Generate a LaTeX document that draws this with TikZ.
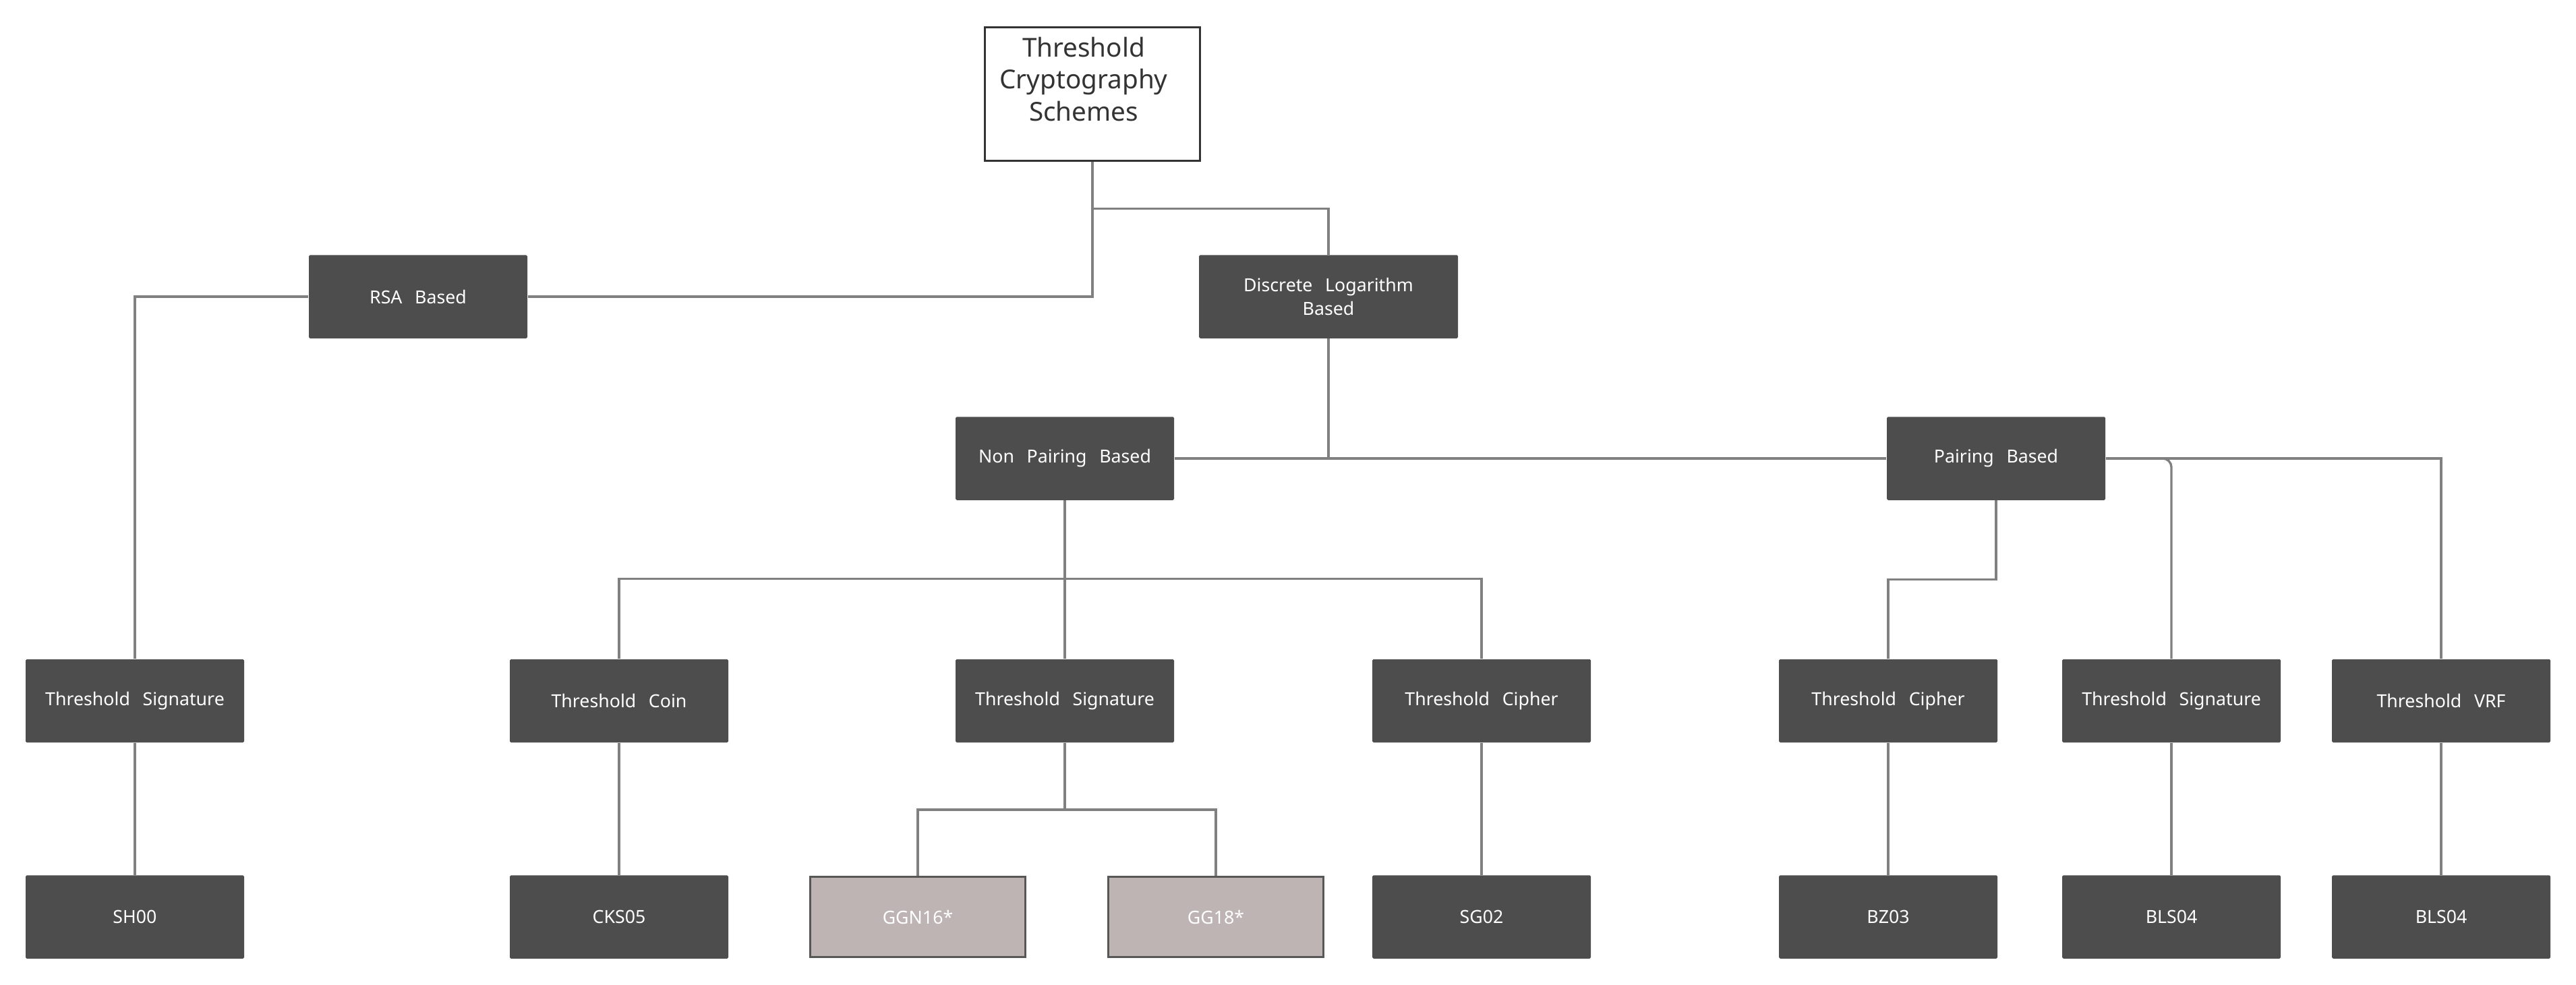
\documentclass[tikz,border=0pt]{standalone}
\usepackage{fontspec}
\setmainfont{Noto Sans}
\definecolor{boxgray}{HTML}{4D4D4D}
\definecolor{linegray}{HTML}{808080}
\definecolor{paperfill}{HTML}{BDB4B3}
\definecolor{paperline}{HTML}{575757}
\definecolor{inkgray}{HTML}{333333}
\newcommand{\wordgap}{\hspace{0.7em}}

\begin{document}
\begin{tikzpicture}
\tikzstyle{block}=[fill=boxgray,text=white,rounded corners=0.5pt,minimum width=3.24cm,minimum height=1.235cm,inner sep=0pt,align=center,font=\fontsize{7.6}{9.7}\selectfont]
\tikzstyle{paper}=[block,fill=paperfill,draw=paperline,line width=1pt,rounded corners=0pt,minimum width=3.19cm,minimum height=1.19cm]
\tikzstyle{rootbox}=[draw=inkgray,fill=white,line width=1pt,minimum width=3.19cm,minimum height=1.98cm,inner sep=0pt]
\tikzstyle{link}=[draw=linegray,line width=0.95pt]
\useasboundingbox (0,0) rectangle (38.2,-14.6);

% top levels
\node[rootbox] (root) at (16.20,-1.395) {};
\node[anchor=north,align=center,inner sep=0pt,text=inkgray,font=\fontsize{11}{13.4}\selectfont] (title) at ([xshift=-0.13cm,yshift=-0.16cm]root.north) {Threshold\\Cryptography\\Schemes};
\node[block] (rsa) at (6.20,-4.40) {RSA\wordgap Based};
\node[block,minimum width=3.84cm] (dl) at (19.70,-4.40) {Discrete\wordgap Logarithm\\Based};
\node[block] (np) at (15.79,-6.80) {Non\wordgap Pairing\wordgap Based};
\node[block] (pb) at (29.60,-6.80) {Pairing\wordgap Based};

% scheme types
\node[block] (rsasig) at (2.00,-10.395) {Threshold\wordgap Signature};
\node[block] (coin) at (9.18,-10.395) {Threshold\wordgap Coin};
\node[block] (npsig) at (15.79,-10.395) {Threshold\wordgap Signature};
\node[block] (npciph) at (21.97,-10.395) {Threshold\wordgap Cipher};
\node[block] (pbciph) at (28.00,-10.395) {Threshold\wordgap Cipher};
\node[block] (pbsig) at (32.20,-10.395) {Threshold\wordgap Signature};
\node[block] (vrf) at (36.20,-10.395) {Threshold\wordgap VRF};

% schemes
\node[block] (sh) at (2.00,-13.60) {SH00};
\node[block] (cks) at (9.18,-13.60) {CKS05};
\node[paper] (ggn) at (13.61,-13.60) {GGN16*};
\node[paper] (gg) at (18.03,-13.60) {GG18*};
\node[block] (sg) at (21.97,-13.60) {SG02};
\node[block] (bz) at (28.00,-13.60) {BZ03};
\node[block] (bls) at (32.20,-13.60) {BLS04};
\node[block] (blsv) at (36.20,-13.60) {BLS04};

\draw[link] (root.south) |- (rsa.east);
\draw[link] (root.south) ++(0,-0.69) -| (dl.north);
\draw[link] (rsa.west) -| (rsasig.north);
\draw[link] (dl.south) |- (np.east);
\draw[link] (dl.south) |- (pb.west);
\foreach \c in {coin,npsig,npciph}
  \draw[link] (np.south) -- ++(0,-1.16) -| (\c.north);
\foreach \c in {ggn,gg}
  \draw[link] (npsig.south) -- ++(0,-0.99) -| (\c.north);
\draw[link] (pb.south) -- ++(0,-1.17) -| (pbciph.north);
\draw[link,rounded corners=0.13cm] (pb.east) -| (pbsig.north);
\draw[link] (pb.east) -| (vrf.north);
\foreach \a/\b in {rsasig/sh,coin/cks,npciph/sg,pbciph/bz,pbsig/bls,vrf/blsv}
  \draw[link] (\a) -- (\b);

\end{tikzpicture}
\end{document}
